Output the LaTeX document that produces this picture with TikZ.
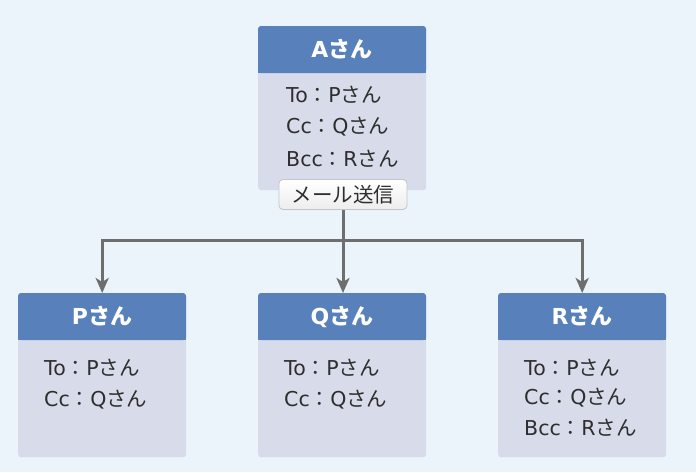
\documentclass[tikz,border=0pt]{standalone}
\usepackage{fontspec}
\setmainfont{DejaVu Sans}
\newfontfamily\jpf{Noto Sans CJK JP}
\usetikzlibrary{arrows.meta}
\definecolor{bg}{HTML}{EAF4FA}
\definecolor{headblue}{HTML}{5880BA}
\definecolor{bodyfill}{HTML}{D8DCEA}
\definecolor{conncol}{HTML}{6E6E6E}
\definecolor{txt}{HTML}{2E2E2E}
\definecolor{btnborder}{HTML}{C4C4C4}
\newcommand{\ja}[1]{{\jpf #1}}
\tikzset{
  bodybox/.style={rectangle, fill=bodyfill, rounded corners=3pt, minimum width=168pt, minimum height=164pt, anchor=north west, inner sep=0pt},
  headtext/.style={text=white, font=\fontsize{22}{26}\selectfont\bfseries, inner sep=0pt},
  linetext/.style={text=txt, font=\fontsize{20.5}{24}\selectfont, anchor=west, inner sep=0pt},
  btn/.style={rectangle, rounded corners=4pt, draw=btnborder, line width=0.8pt, top color=white, bottom color=black!7, minimum width=128pt, minimum height=30pt, text=txt, font=\fontsize{20.5}{24}\selectfont\jpf, inner sep=0pt},
  conn/.style={draw=conncol, line width=3pt},
  arr/.style={conn, -{Stealth[length=15pt,width=13pt,inset=4pt]}}
}
\newcommand{\headerfill}[2]{%
  \fill[headblue, rounded corners=3pt] (#1,#2+47) -- (#1,#2) -- (#1+168,#2) -- (#1+168,#2+47) -- cycle;
  \fill[headblue] (#1,#2+10) rectangle (#1+168,#2+47);}
\begin{document}
\begin{tikzpicture}[x=1pt,y=-1pt]
\fill[bg] (0,0) rectangle (696,472);
\useasboundingbox (0,0) rectangle (696,472);
% A box
\node[bodybox] (A) at (258,26) {};
\headerfill{258}{26}
\node[headtext] (Ah) at (342,49.5) {A\ja{さん}};
\node[linetext] (A1) at (286,95) {To\ja{：}P\ja{さん}};
\node[linetext] (A2) at (286,127) {Cc\ja{：}Q\ja{さん}};
\node[linetext] (A3) at (286,159) {Bcc\ja{：}R\ja{さん}};
% P box
\node[bodybox] (P) at (18,293) {};
\headerfill{18}{293}
\node[headtext] (Ph) at (102,316.5) {P\ja{さん}};
\node[linetext] (P1) at (44,368) {To\ja{：}P\ja{さん}};
\node[linetext] (P2) at (44,400) {Cc\ja{：}Q\ja{さん}};
% Q box
\node[bodybox] (Q) at (258,293) {};
\headerfill{258}{293}
\node[headtext] (Qh) at (342,316.5) {Q\ja{さん}};
\node[linetext] (Q1) at (284,368) {To\ja{：}P\ja{さん}};
\node[linetext] (Q2) at (284,400) {Cc\ja{：}Q\ja{さん}};
% R box
\node[bodybox] (R) at (498,293) {};
\headerfill{498}{293}
\node[headtext] (Rh) at (582,316.5) {R\ja{さん}};
\node[linetext] (R1) at (524,368) {To\ja{：}P\ja{さん}};
\node[linetext] (R2) at (524,398) {Cc\ja{：}Q\ja{さん}};
\node[linetext] (R3) at (524,428) {Bcc\ja{：}R\ja{さん}};
% button
\node[btn] (send) at (343,194.5) {メール送信};
% connectors
\coordinate (j) at (343,240);
\draw[conn] (send.south) -- (j);
\draw[arr] (j) -| (P.north);
\draw[arr] (j) -| (R.north);
\draw[arr] (j) -- (j |- Q.north);
\end{tikzpicture}
\end{document}
